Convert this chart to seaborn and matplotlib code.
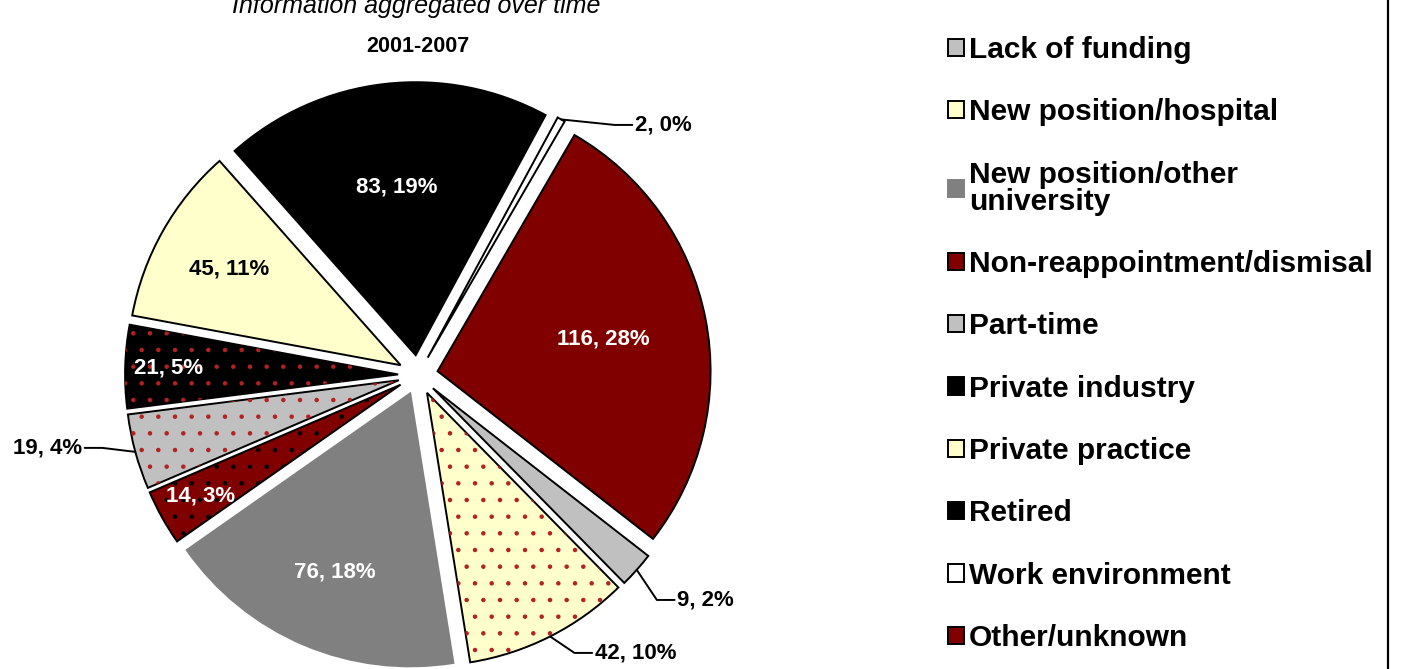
import matplotlib
matplotlib.use('Agg')
import matplotlib.pyplot as plt
from matplotlib.lines import Line2D
import seaborn as sns
import numpy as np

# Reasons for leaving, 2001-2007 (legend / data order, drawn clockwise)
categories = ['Lack of funding', 'New position/hospital', 'New position/other\nuniversity',
              'Non-reappointment/dismisal', 'Part-time', 'Private industry',
              'Private practice', 'Retired', 'Work environment', 'Other/unknown']
counts = [9, 42, 76, 14, 19, 21, 45, 83, 2, 116]
percents = [2, 10, 18, 3, 4, 5, 11, 19, 0, 28]

fill_colors = ['#C0C0C0', '#FFFFCC', '#808080', '#800000', '#C0C0C0',
               '#000000', '#FFFFCC', '#000000', '#FFFFFF', '#800000']
edge_colors = ['black', 'black', '#808080', 'black', 'black',
               'black', 'black', 'black', 'black', 'black']
dot_colors = [None, '#B22222', None, '#000000', '#B22222',
              '#B22222', None, None, None, None]
text_colors = ['black', 'black', 'white', 'white', 'black',
               'white', 'black', 'white', 'black', 'white']
# inside labels: radial fraction; outside labels: text anchor (x, y, ha)
inside_r = [None, None, 0.71, 0.84, None, 0.84, 0.72, 0.62, None, 0.62]
outside_pos = {0: (0.95, -0.824, 'left'), 1: (0.648, -1.018, 'left'),
               4: (-1.231, -0.267, 'right'), 8: (0.795, 0.916, 'left')}

sns.set_style('white')
plt.rcParams['font.family'] = ['Liberation Sans', 'DejaVu Sans']
plt.rcParams['text.color'] = 'black'
plt.rcParams['hatch.linewidth'] = 0.8

W, H = 1403, 669
fig = plt.figure(figsize=(W / 100, H / 100), dpi=100)
ax = fig.add_axes([0, 0, 1, 1])

explode = [0.073] * len(counts)
start = 90 - (30.1 + 360 * counts[-1] / sum(counts))

wedges, _ = ax.pie(counts, colors=fill_colors, explode=explode, startangle=start,
                   counterclock=False, radius=1,
                   wedgeprops=dict(linewidth=1.4))
for w, ec in zip(wedges, edge_colors):
    w.set_edgecolor(ec)

# dotted overlays
dots, _ = ax.pie(counts, colors=['none'] * len(counts), explode=explode, startangle=start,
                 counterclock=False, radius=1, wedgeprops=dict(linewidth=0))
for d, dc in zip(dots, dot_colors):
    if dc is None:
        d.set_visible(False)
    else:
        d.set_hatch('.')
        d.set_edgecolor(dc)

# pie centre at pixel (418, 375), radius 273 px -> 1 data unit (set after pie())
R_PX, CX, CY = 273.0, 418.0, 375.0
ax.set_xlim(-CX / R_PX, (W - CX) / R_PX)
ax.set_ylim(-(H - CY) / R_PX, CY / R_PX)
ax.set_aspect('equal')
ax.axis('off')

for i, w in enumerate(wedges):
    mid = np.deg2rad((w.theta1 + w.theta2) / 2)
    cx, cy = w.center
    label = f'{counts[i]}, {percents[i]}%'
    if inside_r[i] is not None:
        f = inside_r[i]
        ax.text(cx + f * np.cos(mid), cy + f * np.sin(mid), label, ha='center', va='center',
                color=text_colors[i], fontsize=16, fontweight='bold')
    else:
        tx, ty, ha = outside_pos[i]
        px, py = cx + np.cos(mid), cy + np.sin(mid)
        sgn = 1 if ha == 'left' else -1
        ax.plot([px, tx - sgn * 0.075, tx - sgn * 0.01], [py, ty, ty], color='black', lw=1.4)
        ax.text(tx, ty, label, ha=ha, va='center', color='black',
                fontsize=16, fontweight='bold')

fig.text(416 / W, 1 - 6 / H, 'Information aggregated over time', ha='center', va='center',
         fontsize=18, fontstyle='italic')
fig.text(418 / W, 1 - 47 / H, '2001-2007', ha='center', va='center',
         fontsize=15.5, fontweight='bold')

leg = fig.legend(wedges, categories, loc='upper left', bbox_to_anchor=(948 / W, 1 - 36 / H),
                 frameon=False, prop=dict(size=21.5, weight='bold'), handlelength=0.52,
                 handleheight=0.52, handletextpad=0.18, labelspacing=1.15, borderpad=0,
                 borderaxespad=0)
for t in leg.get_texts():
    t.set_linespacing(0.95)

fig.add_artist(Line2D([1388 / W, 1388 / W], [0, 1], color='black', lw=1.6,
                      transform=fig.transFigure))

fig.savefig('out.png', dpi=100)
